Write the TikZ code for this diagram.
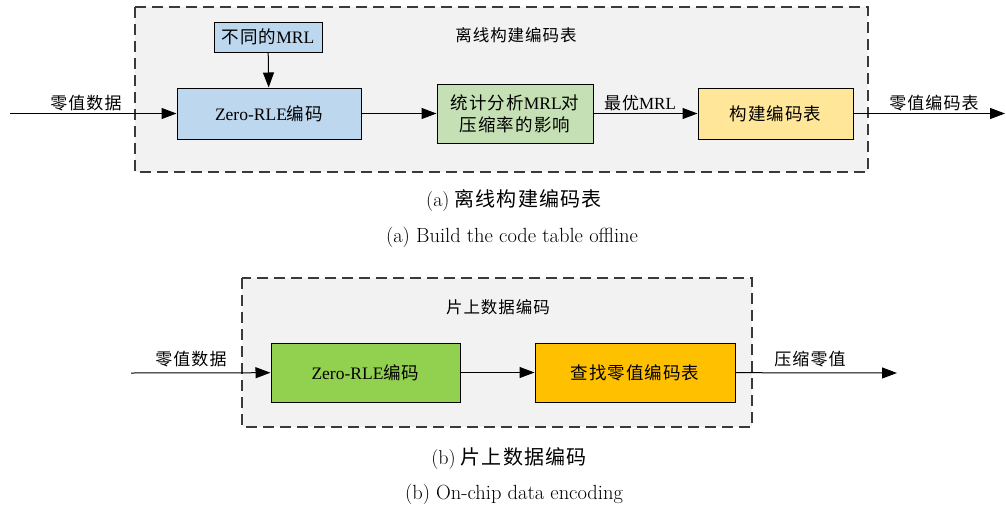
\documentclass[tikz,border=0pt]{standalone}
\usepackage{fontspec}
\setmainfont{Liberation Serif}
\newfontfamily\cjk[LetterSpace=6]{Noto Sans CJK SC}
\newfontfamily\capfont{Latin Modern Roman}
\usetikzlibrary{arrows.meta}
\newcommand\zh[1]{{\cjk #1}}
\definecolor{frameback}{HTML}{F2F2F2}
\definecolor{frameline}{HTML}{3A3A3A}
\definecolor{lightblue}{HTML}{BDD7EE}
\definecolor{lightgreen}{HTML}{C5E0B4}
\definecolor{lightyellow}{HTML}{FFE699}
\definecolor{grassgreen}{HTML}{92D050}
\definecolor{amber}{HTML}{FFC000}
\tikzset{
  frame/.style={draw=frameline, fill=frameback, line width=1.4pt, dash pattern=on 11pt off 6pt},
  block/.style={draw=black, line width=1pt, inner sep=0pt, align=center, font=\fontsize{17.5}{22}\selectfont},
  flow/.style={line width=1pt, -{Triangle[length=15pt,width=11pt]}},
  lbl/.style={font=\fontsize{17}{20}\selectfont, inner sep=0pt},
  caption/.style={font=\fontsize{20}{24}\selectfont, inner sep=0pt},
  capen/.style={font=\fontsize{20.5}{24}\selectfont\capfont, inner sep=0pt},
}
\begin{document}
\begin{tikzpicture}[x=1pt,y=-1pt]
\useasboundingbox[fill=white] (0,0) rectangle (1006,509);

% ---- (a) offline construction of the code table ----
\draw[frame] (135,7) rectangle (868,172);
\node[lbl, font=\fontsize{16.5}{20}\selectfont] (titleA) at (516,35) {\zh{离线构建编码表}};

\node[block, fill=lightblue, minimum width=108pt, minimum height=30pt] (mrl) at (268,37) {\zh{不同的}MRL};
\node[block, fill=lightblue, minimum width=184pt, minimum height=51pt] (zrA) at (269,113.5) {Zero-RLE\zh{编码}};
\node[block, fill=lightgreen, minimum width=156pt, minimum height=59pt] (stat) at (515,113.5) {\zh{统计分析}MRL\zh{对}\\\zh{压缩率的影响}};
\node[block, fill=lightyellow, minimum width=155pt, minimum height=51pt] (tbl) at (775.5,113.5) {\zh{构建编码表}};

\coordinate (inA) at (10,113.5);
\coordinate (outA) at (1005,113.5);

\draw[flow] (inA) -- (zrA);
\draw[flow] (mrl) -- (zrA);
\draw[flow] (zrA) -- (stat);
\draw[flow] (stat) -- (tbl);
\draw[flow] (tbl) -- (outA);

\node[lbl] (inAlbl) at (86,103) {\zh{零值数据}};
\node[lbl] (bestlbl) at (640,103) {\zh{最优}MRL};
\node[lbl] (outAlbl) at (934,103) {\zh{零值编码表}};

\node[caption] (capAzh) at (514,201) {{\capfont (a)}\ \zh{离线构建编码表}};
\node[capen] (capAen) at (512,237) {(a)\ Build the code table offline};

% ---- (b) on-chip data encoding ----
\draw[frame] (242,278) rectangle (752,427);
\node[lbl, font=\fontsize{16.5}{20}\selectfont] (titleB) at (498,307) {\zh{片上数据编码}};

\node[block, fill=grassgreen, minimum width=189pt, minimum height=59pt] (zrB) at (365.5,372.5) {Zero-RLE\zh{编码}};
\node[block, fill=amber, minimum width=200pt, minimum height=59pt] (look) at (635,372.5) {\zh{查找零值编码表}};

\coordinate (inB) at (131,373);
\coordinate (outB) at (897,373);

\draw[flow] (inB) -- (zrB);
\draw[flow] (zrB) -- (look);
\draw[flow] (look) -- (outB);

\node[lbl] (inBlbl) at (191,359) {\zh{零值数据}};
\node[lbl] (outBlbl) at (810,359) {\zh{压缩零值}};

\node[caption] (capBzh) at (509,459) {{\capfont (b)}\ \zh{片上数据编码}};
\node[capen] (capBen) at (514,494) {(b)\ On-chip data encoding};
\end{tikzpicture}
\end{document}
